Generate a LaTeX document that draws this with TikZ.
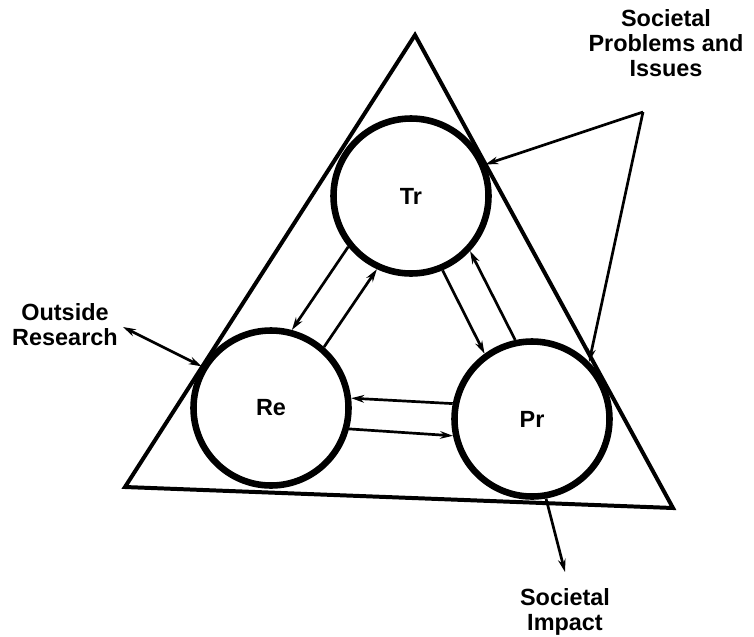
\documentclass[tikz,border=0pt]{standalone}
\usepackage{fontspec}
\setmainfont{Liberation Sans}
\usetikzlibrary{arrows.meta}

\begin{document}
\begin{tikzpicture}[
    x=0.03cm, y=-0.03cm,
    font=\fontsize{20}{21.5}\selectfont\bfseries,
    frame/.style={draw=black, line width=3.4pt, line join=miter},
    ring/.style={circle, draw=black, line width=5.6pt, minimum size=4.65cm, inner sep=0pt},
    link/.style={-{Stealth[length=11pt,width=6.5pt]}, line width=2.3pt},
    both/.style={link, {Stealth[length=11pt,width=6.5pt]}-{Stealth[length=11pt,width=6.5pt]}},
    lab/.style={align=center}
]
\useasboundingbox (0,0) rectangle (754,636);

% ---- triangle round the three circles ----
\draw[frame] (415,35) -- (673,508) -- (125,487) -- cycle;

% ---- circles ----
\node[ring] (tr) at (411,196) {Tr};
\node[ring] (re) at (271,408) {Re};
\node[ring] (pr) at (532,419) {Pr};

% ---- links between the circles ----
\draw[link] (tr.219) -- (re.75);
\draw[link] (re.49) -- (tr.245);
\draw[link] (pr.169) -- (re.7);
\draw[link] (re.-15) -- (pr.192);
\draw[link] (tr.293) -- (pr.126);
\draw[link] (pr.102) -- (tr.317);

% ---- outside labels ----
\node[lab] (problems) at (666,43) {Societal\\Problems and\\Issues};
\node[lab] (outside) at (65,325) {Outside\\Research};
\node[lab] (impact) at (565,612) {Societal\\Impact};

\coordinate (prob) at (643,112);
\coordinate (out) at (123,327);
\coordinate (imp) at (565,572);

\draw[link] (prob) -- (tr.23);
\draw[link] (prob) -- (pr.45);
\draw[both] (out) -- (re.149);
\draw[link] (pr.280) -- (imp);

\end{tikzpicture}
\end{document}
